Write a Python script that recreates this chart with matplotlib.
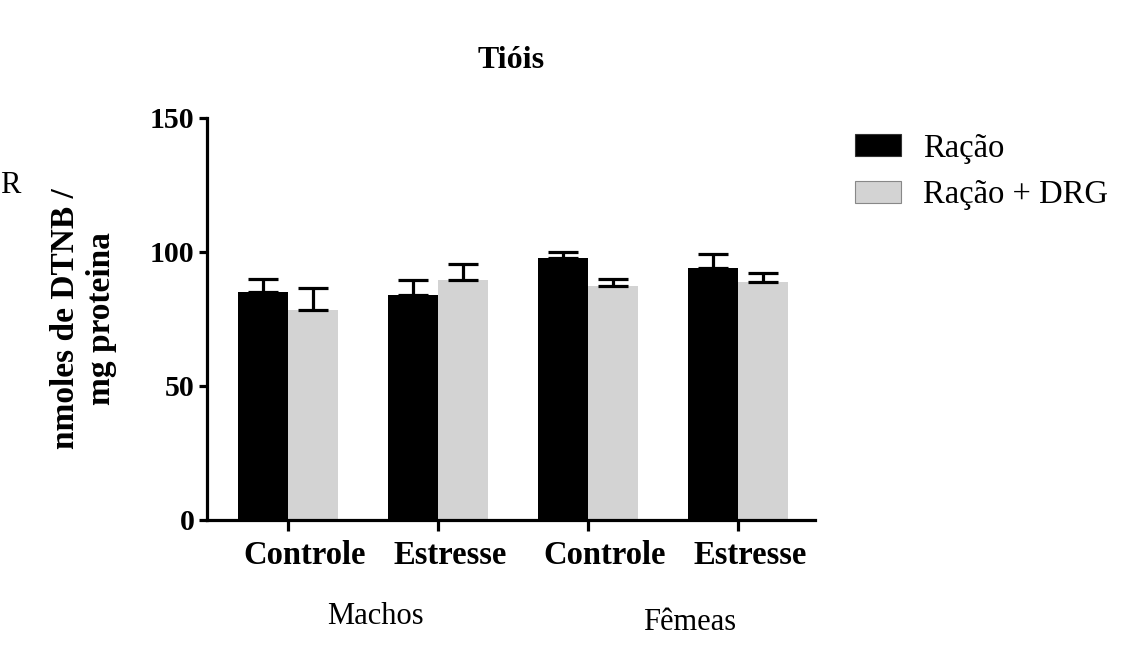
import matplotlib
matplotlib.use("Agg")
import matplotlib.pyplot as plt
from matplotlib.patches import Patch
from matplotlib.transforms import ScaledTranslation, blended_transform_factory
import numpy as np

plt.rcParams['font.family'] = ['Liberation Serif', 'DejaVu Serif']

categories = ["Controle", "Estresse", "Controle", "Estresse"]
groups = ["Machos", "Fêmeas"]
series_names = ["Ração", "Ração + DRG"]
racao = [85.2, 83.8, 97.6, 93.9]
racao_err = [4.6, 5.8, 2.5, 5.2]
racao_drg = [78.4, 89.6, 87.4, 88.9]
racao_drg_err = [8.0, 5.9, 2.5, 3.1]
yticks = [0, 50, 100, 150]

colors = ["#000000", "#d3d3d3"]

fig = plt.figure(figsize=(11.39, 6.48), dpi=100)
ax = fig.add_axes([207/1139, 128/648, 608/1139, 402/648])

x = np.arange(len(categories))
w = 1/3
lw = 2.3
for vals, errs, off, col in [(racao, racao_err, -w/2, colors[0]),
                             (racao_drg, racao_drg_err, w/2, colors[1])]:
    ax.bar(x + off, vals, width=w, color=col, edgecolor='none', zorder=2)
    ax.errorbar(x + off, vals, yerr=[np.zeros(len(vals)), errs], fmt='none',
                ecolor='black', elinewidth=lw, capsize=10.5, capthick=lw, zorder=3)

ax.set_ylim(0, 150)
ax.set_xlim(-0.54, 3.51)
ax.set_yticks(yticks)
ax.set_yticklabels([str(t) for t in yticks], fontsize=21.5, fontweight='bold')
ax.set_xticks(x)
ax.set_xticklabels([])
# category labels: left-aligned slightly left of each tick (as in the reference)
base = blended_transform_factory(ax.transData, ax.transAxes)
shift = ScaledTranslation(-44.5/100, -44/100, fig.dpi_scale_trans)
for xi, lab in zip(x, categories):
    ax.text(xi, 0, lab, transform=base + shift, ha='left', va='baseline',
            fontsize=23.5, fontweight='bold', clip_on=False)

ax.spines['top'].set_visible(False)
ax.spines['right'].set_visible(False)
for s in ['left', 'bottom']:
    ax.spines[s].set_linewidth(lw)
ax.tick_params(axis='y', length=6, width=lw, pad=3)
ax.tick_params(axis='x', length=8, width=lw, pad=7)

ax.set_title("Tióis", fontsize=23, fontweight='bold', pad=36)
ax.set_ylabel("nmoles de DTNB /\nmg proteina", fontsize=24, fontweight='bold',
              labelpad=24, linespacing=1.2)

fig.text(375/1139, 1 - 617/648, groups[0], fontsize=22, ha='center', va='center')
fig.text(690/1139, 1 - 622/648, groups[1], fontsize=22, ha='center', va='center')
fig.text(0.5/1139, 1 - 185/648, "R", fontsize=22, ha='left', va='center')

handles = [Patch(facecolor=colors[0], edgecolor='#333333', linewidth=0.8),
           Patch(facecolor=colors[1], edgecolor='#888888', linewidth=0.8)]
fig.legend(handles, series_names, loc='upper left',
           bbox_to_anchor=(855/1139, 1 - 133/648), frameon=False,
           fontsize=23.5, borderpad=0, borderaxespad=0, handlelength=1.4,
           handleheight=0.68, handletextpad=0.68, labelspacing=0.5)

fig.savefig("out.png", dpi=100)
